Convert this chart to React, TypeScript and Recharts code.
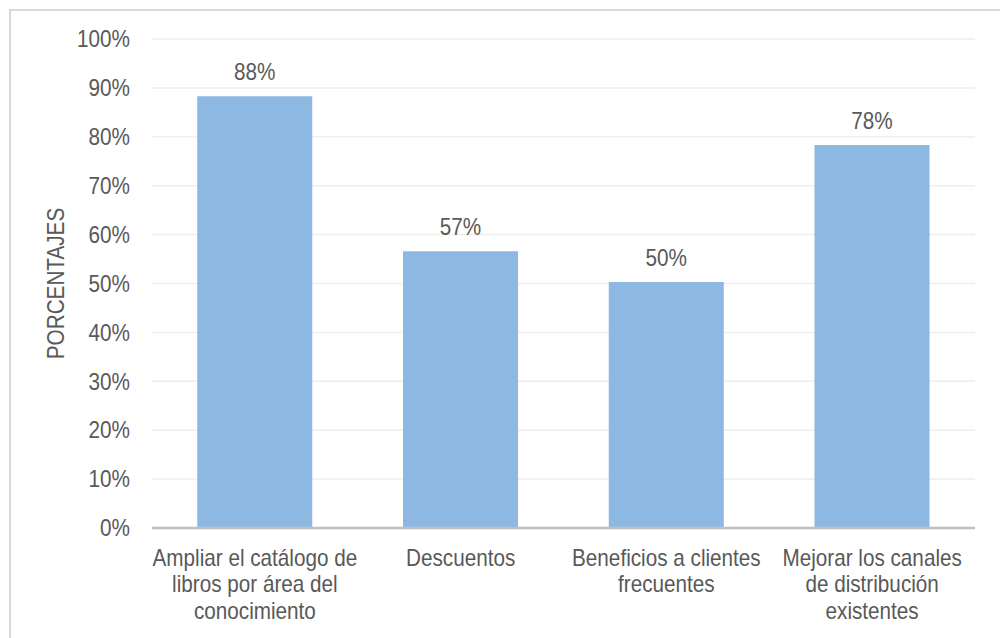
import React from "react";
import { BarChart, Bar, XAxis, YAxis, CartesianGrid, Label } from "recharts";

const categories = [
  "Ampliar el catálogo de libros por área del conocimiento",
  "Descuentos",
  "Beneficios a clientes frecuentes",
  "Mejorar los canales de distribución existentes",
];
const categoryLines = [
  ["Ampliar el catálogo de", "libros por área del", "conocimiento"],
  ["Descuentos"],
  ["Beneficios a clientes", "frecuentes"],
  ["Mejorar los canales", "de distribución", "existentes"],
];
const values = [88.3, 56.6, 50.3, 78.3];
const yTicks = [0, 10, 20, 30, 40, 50, 60, 70, 80, 90, 100];

const data = categories.map((name, i) => ({ name, value: values[i] }));

const FONT = '"Liberation Sans", Arial, sans-serif';
const TEXT = "#595959";
const FS = 23;
const SX = 0.9; // narrow the font like Arial Narrow

function CategoryTick(props: any) {
  const { x, y, index } = props;
  const lines = categoryLines[index] || [];
  return (
    <g transform={`translate(${x},${y}) scale(${SX},1)`}>
      <text x={0} y={0} textAnchor="middle" fill={TEXT} fontSize={FS} fontFamily={FONT}>
        {lines.map((l, i) => (
          <tspan key={i} x={0} dy={i === 0 ? 30 : 26.5}>
            {l}
          </tspan>
        ))}
      </text>
    </g>
  );
}

function PercentTick(props: any) {
  const { x, y, payload } = props;
  return (
    <g transform={`translate(${x},${y}) scale(${SX},1)`}>
      <text x={0} y={0} dy="0.36em" textAnchor="end" fill={TEXT} fontSize={FS} fontFamily={FONT}>
        {`${payload.value}%`}
      </text>
    </g>
  );
}

function ValueLabel(props: any) {
  const { x, y, width, value } = props;
  return (
    <g transform={`translate(${x + width / 2},${y - 16.5}) scale(${SX},1)`}>
      <text x={0} y={0} textAnchor="middle" fill={TEXT} fontSize={FS} fontFamily={FONT}>
        {`${Math.round(value)}%`}
      </text>
    </g>
  );
}

function AxisTitle(props: any) {
  const { viewBox } = props;
  const cy = viewBox.y + viewBox.height / 2;
  const cx = 56;
  return (
    <g transform={`translate(${cx},${cy}) rotate(-90) scale(${SX},1)`}>
      <text x={0} y={0} dy="0.36em" textAnchor="middle" fill={TEXT} fontSize={FS} fontFamily={FONT}>
        PORCENTAJES
      </text>
    </g>
  );
}

export default function App() {
  return (
    <div
      style={{
        position: "absolute",
        left: 0,
        top: 0,
        width: 1000,
        height: 638,
        background: "#fff",
        overflow: "hidden",
      }}
    >
      <div
        style={{
          position: "absolute",
          left: 9,
          top: 9,
          width: 1000,
          height: 700,
          borderTop: "2px solid #d9d9d9",
          borderLeft: "2px solid #d9d9d9",
        }}
      />
      <div style={{ position: "absolute", left: 0, top: 0 }}>
        <BarChart
          width={1000}
          height={638}
          data={data}
          margin={{ top: 39, right: 25, bottom: 0, left: 40 }}
          barCategoryGap="22%"
        >
          <CartesianGrid vertical={false} stroke="#eeeeee" strokeWidth={1.5} />
          <XAxis
            dataKey="name"
            height={110}
            axisLine={{ stroke: "#bfbfbf", strokeWidth: 2.5 }}
            tickLine={false}
            tickSize={0}
            tickMargin={8}
            interval={0}
            tick={<CategoryTick />}
          />
          <YAxis
            width={112}
            domain={[0, 100]}
            ticks={yTicks}
            interval={0}
            axisLine={false}
            tickLine={false}
            tickSize={0}
            tickMargin={22}
            tick={<PercentTick />}
          >
            <Label content={<AxisTitle />} />
          </YAxis>
          <Bar
            dataKey="value"
            fill="#8cb8e2"
            isAnimationActive={false}
            label={<ValueLabel />}
          />
        </BarChart>
      </div>
    </div>
  );
}
